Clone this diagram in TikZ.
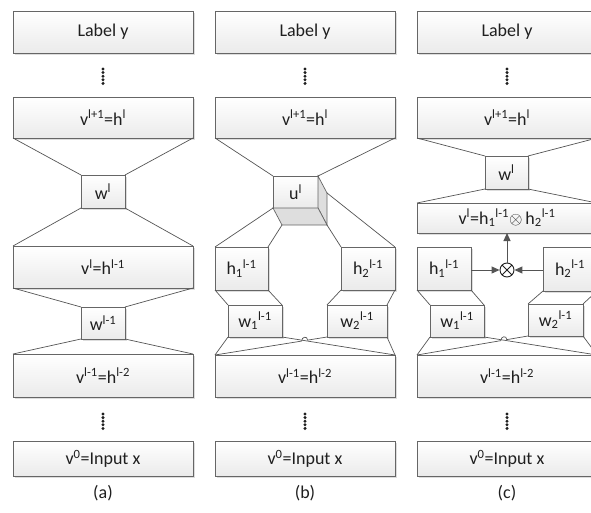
\documentclass[tikz,border=0pt]{standalone}
\usepackage{fontspec}
\setmainfont{Carlito}
\usetikzlibrary{shadows,calc,intersections,arrows.meta}
\definecolor{edge}{gray}{0.40}
\definecolor{wire}{gray}{0.33}
\definecolor{boxbot}{gray}{0.92}
\definecolor{side}{gray}{0.87}
\definecolor{ink}{gray}{0.12}
\tikzset{
  box/.style={draw=edge, line width=0.7pt, top color=white, bottom color=boxbot,
    inner sep=0pt, outer sep=0pt, text=ink,
    drop shadow={shadow xshift=2pt, shadow yshift=-2pt, fill=gray!45, opacity=0.6}},
  flat/.style={draw=edge, line width=0.7pt, top color=white, bottom color=boxbot,
    inner sep=0pt, outer sep=0pt, text=ink},
  conn/.style={draw=wire, line width=0.7pt},
  arr/.style={draw=wire, line width=1pt, -{Triangle[length=8pt,width=7pt]}},
  otimes/.style={circle, draw=ink, line width=0.9pt, minimum size=14pt, inner sep=0pt,
    path picture={\draw[ink, line width=0.9pt]
      (path picture bounding box.north west) -- (path picture bounding box.south east)
      (path picture bounding box.north east) -- (path picture bounding box.south west);}},
  captext/.style={text=ink}
}
% box by its corners: name, x1, y1, x2, y2, text
\newcommand\bx[6]{\node[box, anchor=north west, minimum width={#4pt-#2pt},
  minimum height={#5pt-#3pt}] (#1) at (#2,#3) {#6};}
\newcommand\vdotsat[2]{\foreach \k in {0,...,4}{\fill[ink] (#1,#2+\k*3.6) circle (1.65);}}
\newcommand\up[1]{\textsuperscript{#1}}
\newcommand\dn[1]{\textsubscript{#1}}

\begin{document}
\begin{tikzpicture}[x=1pt, y=-1pt, font=\fontsize{18}{21}\selectfont]
\clip (0,0) rectangle (591,513);

% ---------------- (a) plain stack ----------------
\bx{aY}{13}{11}{193}{53}{Label y}
\vdotsat{103}{69}
\bx{aT}{13}{97}{193}{138}{v\up{l+1}=h\up{l}}
\bx{aW}{81}{175}{125}{208}{w\up{l}}
\bx{aV}{13}{246}{193}{288}{v\up{l}=h\up{l-1}}
\bx{aWm}{81}{307}{125}{339}{w\up{l-1}}
\bx{aVm}{13}{354}{193}{397}{v\up{l-1}=h\up{l-2}}
\vdotsat{103}{414}
\bx{aX}{13}{441}{193}{476}{v\up{0}=Input x}
\node[captext] (capa) at (103,493) {(a)};
\draw[conn] (aT.south west) -- (aW.north west) (aT.south east) -- (aW.north east);
\draw[conn] (aW.south west) -- (aV.north west) (aW.south east) -- (aV.north east);
\draw[conn] (aV.south west) -- (aWm.north west) (aV.south east) -- (aWm.north east);
\draw[conn] (aWm.south west) -- (aVm.north west) (aWm.south east) -- (aVm.north east);

% ---------------- (b) tensor cube ----------------
\bx{bY}{215}{11}{395}{53}{Label y}
\vdotsat{305}{69}
\bx{bT}{215}{97}{395}{138}{v\up{l+1}=h\up{l}}
\node[flat, anchor=north west, minimum width=45pt, minimum height=32pt] (bU) at (273,176) {u\up{l}};
\coordinate (bUtr) at ($(bU.north east)+(9,17)$);
\coordinate (bUbr) at ($(bU.south east)+(9,17)$);
\coordinate (bUbl) at ($(bU.south west)+(9,17)$);
\filldraw[fill=side, draw=edge, line width=0.7pt] (bU.north east) -- (bUtr) -- (bUbr) -- (bU.south east) -- cycle;
\filldraw[fill=side, draw=edge, line width=0.7pt] (bU.south west) -- (bU.south east) -- (bUbr) -- (bUbl) -- cycle;
\bx{bH1}{215}{247}{268}{290}{h\dn{1}\up{l-1}}
\bx{bH2}{341}{247}{395}{290}{h\dn{2}\up{l-1}}
\bx{bW1}{228}{305}{282}{337}{w\dn{1}\up{l-1}}
\bx{bW2}{327}{305}{387}{337}{w\dn{2}\up{l-1}}
\bx{bVm}{215}{355}{395}{397}{v\up{l-1}=h\up{l-2}}
\vdotsat{305}{414}
\bx{bX}{215}{441}{395}{476}{v\up{0}=Input x}
\node[captext] (capb) at (305,493) {(b)};
\draw[conn] (bT.south west) -- (bU.north west) (bT.south east) -- (bU.north east);
\draw[conn] (bU.south west) -- (bH1.north west) (bUbl) -- (bH1.north east);
\draw[conn] (bUbr) -- (bH2.north west) (bUtr) -- (bH2.north east);
\draw[conn] (bH1.south west) -- (bW1.north west) (bH1.south east) -- (bW1.north east);
\draw[conn] (bH2.south west) -- (bW2.north west) (bH2.south east) -- (bW2.north east);
\draw[conn] (bW1.south west) -- (bVm.north west) (bW2.south east) -- (bVm.north east);
\path[name path=bl1] (bW1.south east) -- (bVm.north east);
\path[name path=bl2] (bW2.south west) -- (bVm.north west);
\path[name intersections={of=bl1 and bl2, by=bC}];
\coordinate (bA) at ($(bC)!3pt!(bW2.south west)$);
\coordinate (bB) at ($(bC)!3pt!(bVm.north west)$);
\draw[conn] (bW1.south east) -- (bVm.north east);
\draw[conn] (bW2.south west) -- (bA) .. controls ($(bA)+(0,-4.5)$) and ($(bB)+(0,-4.5)$) .. (bB) -- (bVm.north west);

% ---------------- (c) product of two branches ----------------
\bx{cY}{417}{11}{597}{53}{Label y}
\vdotsat{507}{69}
\bx{cT}{417}{97}{597}{138}{v\up{l+1}=h\up{l}}
\bx{cW}{485}{156}{528}{189}{w\up{l}}
\bx{cV}{417}{203}{597}{233}{v\up{l}=h\dn{1}\up{l-1}$\otimes$\,h\dn{2}\up{l-1}}
\node[otimes] (cO) at (507,270) {};
\bx{cH1}{417}{247}{471}{290}{h\dn{1}\up{l-1}}
\bx{cH2}{543}{247}{597}{291}{h\dn{2}\up{l-1}}
\bx{cW1}{430}{305}{484}{337}{w\dn{1}\up{l-1}}
\bx{cW2}{528}{304}{583}{336}{w\dn{2}\up{l-1}}
\bx{cVm}{417}{355}{597}{397}{v\up{l-1}=h\up{l-2}}
\vdotsat{507}{414}
\bx{cX}{417}{441}{597}{476}{v\up{0}=Input x}
\node[captext] (capc) at (507,493) {(c)};
\draw[conn] (cT.south west) -- (cW.north west) (cT.south east) -- (cW.north east);
\draw[conn] (cW.south west) -- (cV.north west) (cW.south east) -- (cV.north east);
\draw[arr] (cH1.east |- cO) -- (cO.west);
\draw[arr] (cH2.west |- cO) -- (cO.east);
\draw[arr] (cO.north) -- (cO.north |- cV.south);
\draw[conn] (cH1.south west) -- (cW1.north west) (cH1.south east) -- (cW1.north east);
\draw[conn] (cH2.south west) -- (cW2.north west) (cH2.south east) -- (cW2.north east);
\draw[conn] (cW1.south west) -- (cVm.north west) (cW2.south east) -- (cVm.north east);
\path[name path=cl1] (cW1.south east) -- (cVm.north east);
\path[name path=cl2] (cW2.south west) -- (cVm.north west);
\path[name intersections={of=cl1 and cl2, by=cC}];
\coordinate (cA) at ($(cC)!3pt!(cW2.south west)$);
\coordinate (cB) at ($(cC)!3pt!(cVm.north west)$);
\draw[conn] (cW1.south east) -- (cVm.north east);
\draw[conn] (cW2.south west) -- (cA) .. controls ($(cA)+(0,-4.5)$) and ($(cB)+(0,-4.5)$) .. (cB) -- (cVm.north west);
\end{tikzpicture}
\end{document}
